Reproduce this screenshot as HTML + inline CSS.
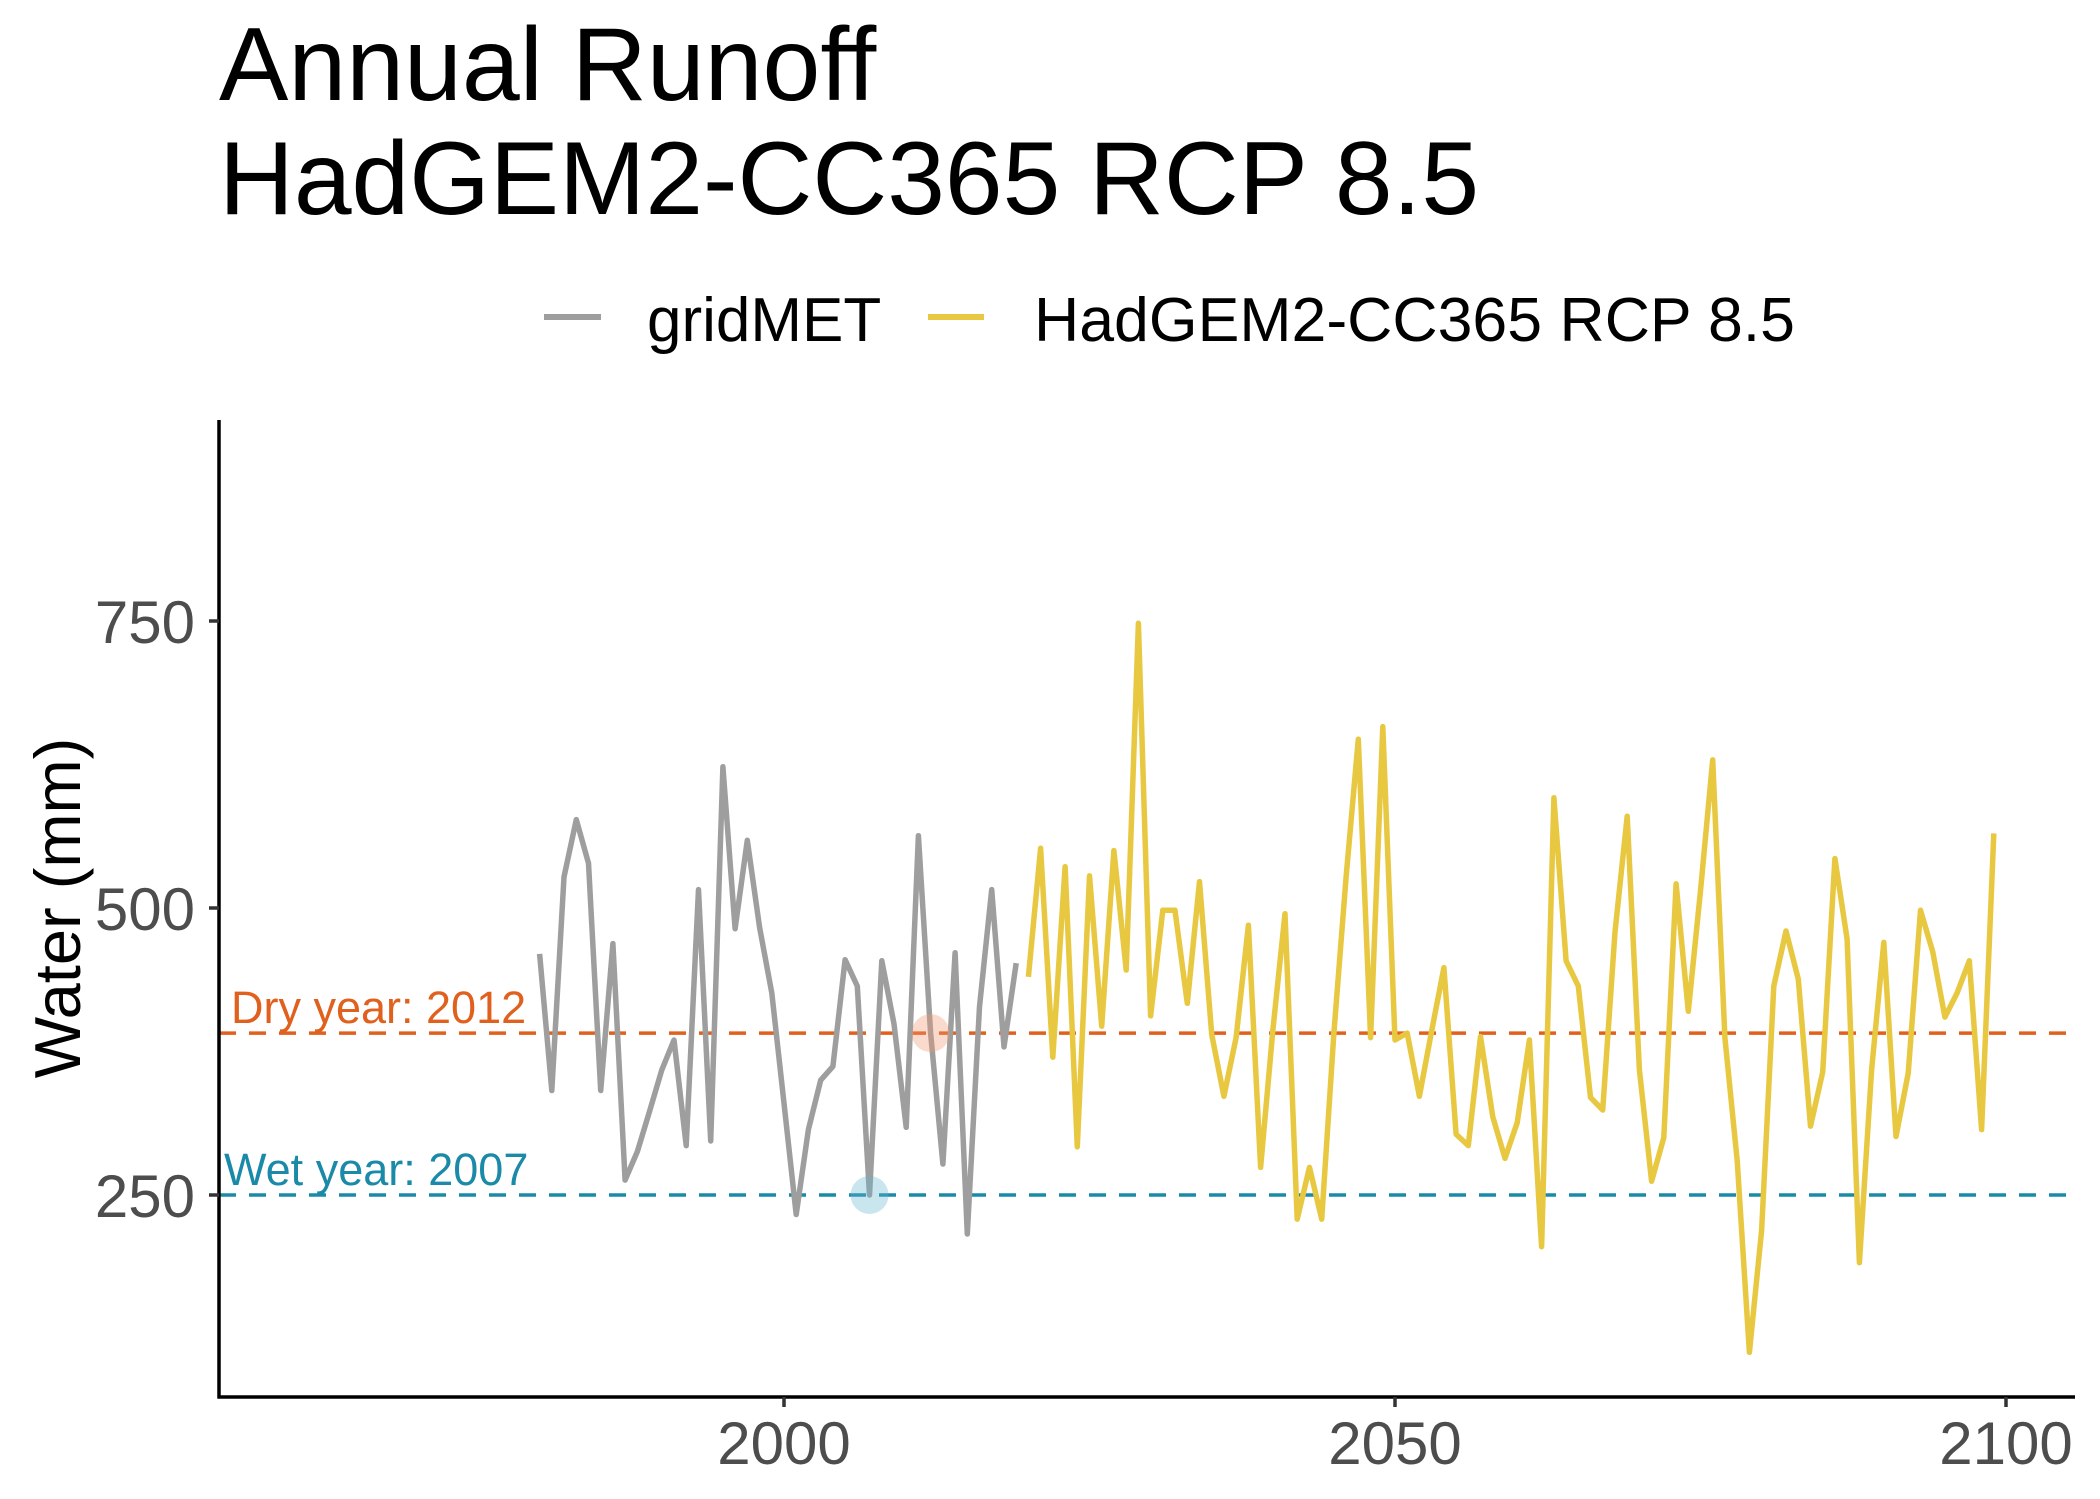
<!DOCTYPE html>
<html><head><meta charset="utf-8"><style>
html,body{margin:0;padding:0;background:#fff;}
svg{display:block;font-family:"Liberation Sans",Arial,sans-serif;}
</style></head><body>
<svg id="chart" width="2100" height="1499" viewBox="0 0 2100 1499" xmlns="http://www.w3.org/2000/svg">
<rect width="2100" height="1499" fill="#fff"/>
<text x="219" y="100" font-size="104" fill="#000">Annual Runoff</text>
<text x="219" y="214" font-size="104" fill="#000" textLength="1260" lengthAdjust="spacingAndGlyphs">HadGEM2-CC365 RCP 8.5</text>
<g>
<line x1="544" y1="317" x2="601" y2="317" stroke="#9e9e9e" stroke-width="6"/>
<text x="647" y="341" font-size="62" fill="#000">gridMET</text>
<line x1="928" y1="317" x2="984" y2="317" stroke="#e8c840" stroke-width="6"/>
<text x="1034" y="341" font-size="62" fill="#000" textLength="761" lengthAdjust="spacingAndGlyphs">HadGEM2-CC365 RCP 8.5</text>
</g>
<g id="plot"></g>
<text transform="translate(80,908) rotate(-90)" text-anchor="middle" font-size="65" fill="#000">Water (mm)</text>
</svg>
<script>
const gridYears = [1980,1981,1982,1983,1984,1985,1986,1987,1988,1989,1990,1991,1992,1993,1994,1995,1996,1997,1998,1999,2000,2001,2002,2003,2004,2005,2006,2007,2008,2009,2010,2011,2012,2013,2014,2015,2016,2017,2018,2019];
const gridValues = [460,341,527,577,539,341,469,263,288,323,359,385,293,516,297,623,482,559,483,426,330,233,307,350,362,455,432,250,454,399,309,563,391,277,461,216,414,516,379,452];
const modelYears = [];
for (let y = 2020; y <= 2099; y++) modelYears.push(y);
const modelValues = [440,552,370,536,292,528,397,550,446,748,406,498,498,417,523,390,336,387,485,274,393,495,229,274,229,391,527,647,387,658,385,391,336,393,448,303,293,388,318,282,313,385,205,596,454,432,335,324,479,580,359,262,300,521,410,515,629,387,280,113,219,432,480,438,310,357,543,473,191,359,470,301,356,498,462,405,426,454,307,565];
const yTicks = [250,500,750];
const xTicks = [2000,2050,2100];
const refValues = [391,250];
const refLabels = ["Dry year: 2012","Wet year: 2007"];
const refYears = [2012,2007];

const X0=219, X1=2075, Y0=420, Y1=1397;
function xs(yr){ return 784 + (yr-2000)*12.22; }
function ys(v){ return 908 - (v-500)*287/250; }
const NS="http://www.w3.org/2000/svg";
const g=document.getElementById('plot');
function mk(tag,attrs){const e=document.createElementNS(NS,tag);for(const k in attrs)e.setAttribute(k,attrs[k]);g.appendChild(e);return e;}

const refColors=["#e0601e","#1a8aa8"];
const refFill=["rgba(240,150,110,0.35)","rgba(100,180,205,0.35)"];
refValues.forEach((v,i)=>{
  const l=mk('line',{x1:X0,x2:X1,y1:ys(v),y2:ys(v),stroke:refColors[i],'stroke-width':3.5,'stroke-dasharray':'17 13'});
  
  
  const t=mk('text',{x:i===0?231:224,y:ys(v)-10,'font-size':45,fill:refColors[i]});
  t.textContent=refLabels[i];
  
  
});

function path(xsA,vs){return xsA.map((yr,i)=>(i?'L':'M')+xs(yr).toFixed(1)+','+ys(vs[i]).toFixed(1)).join(' ');}
const p1=mk('path',{d:path(gridYears,gridValues),fill:'none',stroke:'#9e9e9e','stroke-width':5.5,'stroke-linejoin':'round'});


const p2=mk('path',{d:path(modelYears,modelValues),fill:'none',stroke:'#e8c840','stroke-width':5.5,'stroke-linejoin':'round'});



refValues.forEach((v,i)=>{
  const c=mk('circle',{cx:xs(refYears[i]),cy:ys(v),r:19,fill:refFill[i]});
  
  
});

const ax=mk('line',{x1:X0,x2:X0,y1:Y0,y2:Y1+1.5,stroke:'#000','stroke-width':3.5});


const bx=mk('line',{x1:X0-1.5,x2:X1,y1:Y1,y2:Y1,stroke:'#000','stroke-width':3.5});


yTicks.forEach(v=>{
  const t=mk('line',{x1:X0-10,x2:X0,y1:ys(v),y2:ys(v),stroke:'#333','stroke-width':3.5});
  
  
  const l=mk('text',{x:195,y:ys(v)+22,'font-size':60,fill:'#4d4d4d','text-anchor':'end'});
  l.textContent=v;
  
  
});
xTicks.forEach(v=>{
  const t=mk('line',{x1:xs(v),x2:xs(v),y1:Y1,y2:Y1+10,stroke:'#333','stroke-width':3.5});
  
  
  const l=mk('text',{x:xs(v),y:1464,'font-size':60,fill:'#4d4d4d','text-anchor':'middle'});
  l.textContent=v;
  
  
});
</script>
</body></html>
